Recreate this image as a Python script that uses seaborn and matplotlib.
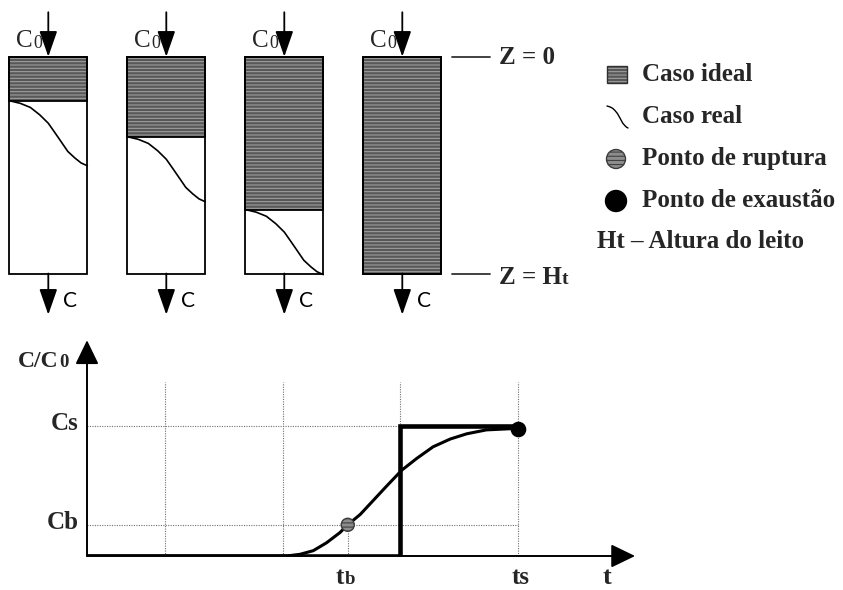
import matplotlib
matplotlib.use("Agg")
import matplotlib.pyplot as plt
from matplotlib.patches import Rectangle, Circle
import seaborn as sns

# Bed columns at four successive times: fraction of the bed height already saturated
columns = ["1", "2", "3", "4"]
saturated = [0.203, 0.369, 0.705, 1.0]

# Concentration profile in the mass-transfer zone (fraction of column width, depth below front)
profile_x = [0.0, 0.14, 0.27, 0.39, 0.50, 0.58, 0.67, 0.75, 0.84, 0.92, 1.0]
profile_dz = [0.0, 0.012, 0.031, 0.065, 0.104, 0.145, 0.192, 0.234, 0.264, 0.287, 0.30]

# Breakthrough curve C/C0 versus t
t_real = [0.0, 2.55, 2.72, 2.89, 3.06, 3.23, 3.33, 3.49, 3.66, 3.83, 4.02, 4.21, 4.42, 4.64, 4.85, 5.10, 5.44, 5.50]
c_real = [0.0, 0.0, 0.013, 0.041, 0.102, 0.180, 0.240, 0.320, 0.430, 0.540, 0.660, 0.750, 0.840, 0.900, 0.940, 0.970, 0.980, 0.980]
t_ideal = [0.0, 4.0, 4.0, 5.5]
c_ideal = [0.0, 0.0, 1.0, 1.0]
t_grid = [1.0, 2.5, 4.0, 5.5]
grid_top = 1.34
Cs, Cb = 1.0, 0.24
tb, ts = 3.33, 5.5

legend_labels = ["Caso ideal", "Caso real", "Ponto de ruptura", "Ponto de exaustão"]
legend_note = "Ht \u2013 Altura do leito"

sns.set_theme(style="white")
plt.rcParams["font.family"] = ["Liberation Serif", "DejaVu Serif"]
plt.rcParams["hatch.linewidth"] = 0.75
plt.rcParams["hatch.color"] = "#b0b0b0"

SAT_FACE, SAT_HATCH = "#585858", "#a2a2a2"
DOT = (0, (1, 1.2))

W, H = 843, 590
fig = plt.figure(figsize=(W / 100, H / 100), dpi=100)
fig.patch.set_facecolor("white")


def sub_text(axis, xy, big, small, size, small_size, offset, xycoords="data",
             weight="bold", drop=0.0, family=None, ha="left"):
    """Text followed by a smaller piece sitting on the same baseline."""
    kw = dict(fontweight=weight)
    if family:
        kw["family"] = family
    main = axis.annotate(big, xy=xy, xycoords=xycoords, xytext=offset,
                         textcoords="offset pixels", fontsize=size,
                         ha=ha, va="baseline", **kw)
    axis.annotate(small, xy=(1, 0), xycoords=main,
                  xytext=(0.3, 0.215 * size - drop), textcoords="offset points",
                  fontsize=small_size, ha="left", va="baseline", **kw)
    return main


# ------------------------------------------------------------------ columns
col_c0, col_pitch = 48.3, 118.0
bed_top, bed_h = 56.7, 216.8
bw = 78.0 / col_pitch

ax = fig.add_axes([0, 0, 1, 1])
sns.barplot(x=columns, y=[1.0] * 4, color="white", saturation=1, width=bw,
            linewidth=0, errorbar=None, ax=ax)
sns.barplot(x=columns, y=saturated, color=SAT_FACE, saturation=1, width=bw,
            edgecolor=SAT_HATCH, linewidth=0, hatch="-----", errorbar=None, ax=ax)
sns.barplot(x=columns, y=saturated, fill=False, color="black", width=bw,
            linewidth=1.3, errorbar=None, ax=ax)
sns.barplot(x=columns, y=[1.0] * 4, fill=False, color="black", width=bw,
            linewidth=1.3, errorbar=None, ax=ax)

for i, front in enumerate(saturated):
    if front >= 1.0:
        continue
    xs = [i - bw / 2 + p * bw for p in profile_x]
    ys = [front + d for d in profile_dz]
    sns.lineplot(x=xs, y=ys, sort=False, estimator=None, color="black",
                 linewidth=1.2, ax=ax)

ax.set_xlim(-col_c0 / col_pitch, (W - col_c0) / col_pitch)
ax.set_ylim((H - bed_top) / bed_h, -bed_top / bed_h)
ax.axis("off")

arrow_style = "-|>,head_length=0.66,head_width=0.23"
for i in range(len(columns)):
    ax.annotate("", xy=(i, 0.0), xytext=(i, -0.205),
                arrowprops=dict(arrowstyle=arrow_style, color="black", lw=1.3,
                                mutation_scale=24, shrinkA=0, shrinkB=0))
    ax.annotate("", xy=(i, 1.19), xytext=(i, 1.0),
                arrowprops=dict(arrowstyle=arrow_style, color="black", lw=1.3,
                                mutation_scale=24, shrinkA=0, shrinkB=0))
    sub_text(ax, (i, 0.0), "C", "0", 18, 13, (-32, 10), weight="normal", drop=1.5)
    ax.annotate("C", xy=(i, 1.0), xytext=(15, -33.5), textcoords="offset pixels",
                fontsize=15, family="Lato", ha="left", va="baseline", color="black")

# bed top / bottom markers
z_x0, z_x1, z_lab = 3.421, 3.743, 3.818
ax.plot([z_x0, z_x1], [0.0, 0.0], color="#333333", lw=1.3)
ax.plot([z_x0, z_x1], [1.0, 1.0], color="#333333", lw=1.3)
ax.annotate("Z = 0", xy=(z_lab, 0.0), xytext=(0, -7.3), textcoords="offset pixels",
            fontsize=18, fontweight="bold", ha="left", va="baseline")
sub_text(ax, (z_lab, 1.0), "Z = H", "t", 18, 14, (0, -10.4))

# ------------------------------------------------------- breakthrough curve
px_t, px_c = 78.3, 130.0
org_x, org_y = 87, 556
xmax, ymax = 7.2, 1.75
ax2 = fig.add_axes([org_x / W, (H - org_y) / H, xmax * px_t / W, ymax * px_c / H])
ax2.set_xlim(0, xmax)
ax2.set_ylim(0, ymax)
ax2.axis("off")

grid_kw = dict(color="#707070", lw=0.8, linestyle=DOT, zorder=1)
for tg in t_grid:
    ax2.plot([tg, tg], [0, grid_top], **grid_kw)
ax2.plot([0, ts], [Cs, Cs], **grid_kw)
ax2.plot([0, ts], [Cb, Cb], **grid_kw)
ax2.plot([tb, tb], [0, Cb], **grid_kw)

axis_style = "-|>,head_length=0.62,head_width=0.3"
ax2.annotate("", xy=(7.0, 0), xytext=(0, 0),
             arrowprops=dict(arrowstyle=axis_style, color="black", lw=1.4,
                             mutation_scale=24, shrinkA=0, shrinkB=0), zorder=2)
ax2.annotate("", xy=(0, 1.66), xytext=(0, 0),
             arrowprops=dict(arrowstyle=axis_style, color="black", lw=1.4,
                             mutation_scale=24, shrinkA=0, shrinkB=0), zorder=2)

sns.lineplot(x=t_ideal, y=c_ideal, sort=False, estimator=None, color="black",
             linewidth=3.3, ax=ax2, zorder=3)
for ln in ax2.get_lines()[-1:]:
    ln.set_solid_joinstyle("miter")
    ln.set_solid_capstyle("butt")
sns.lineplot(x=t_real, y=c_real, sort=False, estimator=None, color="black",
             linewidth=2.2, ax=ax2, zorder=4)
ax2.scatter([tb], [Cb], s=88, facecolor="#8c8c8c", edgecolor="#3c3c3c",
            linewidth=1.0, hatch="----", zorder=5)
ax2.scatter([ts], [c_real[-1]], s=105, color="black", zorder=5)
ax2.set_xlim(0, xmax)
ax2.set_ylim(0, ymax)

sub_text(ax2, (0, 0), "C/C", "0", 17, 13.5, (-69, 189))
ax2.annotate("Cs", xy=(0, Cs), xytext=(-8, -4.3), textcoords="offset pixels",
             fontsize=18, fontweight="bold", ha="right", va="baseline")
ax2.annotate("Cb", xy=(0, Cb), xytext=(-8, -4.0), textcoords="offset pixels",
             fontsize=18, fontweight="bold", ha="right", va="baseline")
sub_text(ax2, (tb, 0), "t", "b", 18, 13.5, (-12, -28))
ax2.annotate("ts", xy=(ts, 0), xytext=(3, -28), textcoords="offset pixels",
             fontsize=18, fontweight="bold", ha="center", va="baseline")
ax2.annotate("t", xy=(6.64, 0), xytext=(0, -28), textcoords="offset pixels",
             fontsize=19, fontweight="bold", ha="center", va="baseline")

# ------------------------------------------------------------------ legend
ov = fig.add_axes([0, 0, 1, 1])
ov.set_xlim(0, W)
ov.set_ylim(H, 0)
ov.axis("off")

ov.add_patch(Rectangle((607, 66), 20, 17, facecolor=SAT_FACE, edgecolor=SAT_HATCH,
                       lw=0, hatch="-----"))
ov.add_patch(Rectangle((607, 66), 20, 17, fill=False, edgecolor="#303030", lw=1.0))
ov.plot([607 + p * 21 for p in profile_x], [106 + d / 0.30 * 22 for d in profile_dz],
        color="black", lw=1.0)
ov.add_patch(Circle((616, 159), 9.5, facecolor="#8c8c8c", edgecolor="#3c3c3c",
                    lw=1.0, hatch="----"))
ov.add_patch(Circle((616, 201), 10.5, color="black"))

for lab, base in zip(legend_labels, [81, 123, 165, 207]):
    ov.text(642, base, lab, fontsize=18, fontweight="bold", ha="left", va="baseline")
ov.text(597, 248, legend_note, fontsize=18, fontweight="bold", ha="left", va="baseline")

fig.savefig("out.png", dpi=100, facecolor="white")
